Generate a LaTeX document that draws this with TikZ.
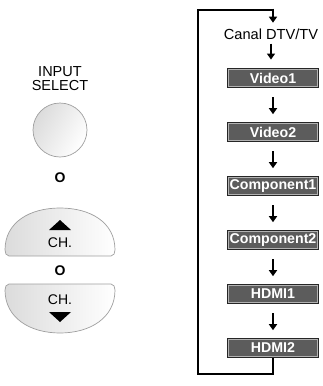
\documentclass[tikz,border=0pt]{standalone}
\usepackage{fontspec}
\setmainfont{Liberation Sans}
\usetikzlibrary{arrows.meta,calc}
\tikzset{
  srcbox/.style={minimum width=92pt,minimum height=20pt,inner sep=0pt,
    font=\bfseries\fontsize{14.2}{15}\selectfont,text=white},
  flowarr/.style={line width=2.1pt,-{Triangle[width=8pt,length=6pt]}},
  loopline/.style={line width=2.6pt,line cap=butt},
  btn/.style={draw=gray!75,line width=0.7pt,left color=gray!28,right color=white},
  btnlabel/.style={font=\fontsize{14}{15}\selectfont},
  orlabel/.style={font=\bfseries\fontsize{14}{15}\selectfont},
}
\newcommand{\srcnode}[3]{%
  \node[srcbox] (#1) at (273,#2) {};
  \fill[black!85] (#1.south west) rectangle (#1.north east);
  \fill[black!30] ($(#1.south west)+(1,-1)$) rectangle ($(#1.north east)+(-1,1)$);
  \fill[black!64] ($(#1.south west)+(2.6,-2.6)$) rectangle ($(#1.north east)+(-2.6,2.6)$);
  \node[srcbox] at (#1) {#3};
}
\begin{document}
\begin{tikzpicture}[x=1pt,y=-1pt]
\useasboundingbox (0,0) rectangle (322,386);
% left side
\node[font=\fontsize{14.5}{14}\selectfont,align=center,inner sep=0pt] (insel) at (60,79) {INPUT\\SELECT};
\node[circle,minimum size=54pt,btn,shading angle=60] (inbtn) at (60,130) {};
\node[orlabel] (or1) at (60,178) {O};
% upper CH button
\path[btn] (9,256) -- (111,256) to[out=0,in=-90] (115,250)
  .. controls (115,222) and (90,208) .. (60,208)
  .. controls (30,208) and (5,222) .. (5,250) to[out=-90,in=180] (9,256) -- cycle;
\fill (49,230) -- (71,230) -- (60,220) -- cycle;
\node[btnlabel] (ch1) at (60,243) {CH.};
\node[orlabel] (or2) at (60,271) {O};
% lower CH button
\path[btn] (9,284) -- (111,284) to[out=0,in=90] (115,290)
  .. controls (115,318) and (90,333) .. (60,333)
  .. controls (30,333) and (5,318) .. (5,290) to[out=90,in=180] (9,284) -- cycle;
\node[btnlabel] (ch2) at (60,300) {CH.};
\fill (49,312) -- (71,312) -- (60,322) -- cycle;
% right side flow
\node[font=\fontsize{14.6}{15}\selectfont,inner sep=0pt] (tv) at (271,34) {Canal DTV/TV};
\srcnode{v1}{78}{Video1}
\srcnode{v2}{132}{Video2}
\srcnode{c1}{186}{Component1}
\srcnode{c2}{240}{Component2}
\srcnode{h1}{294}{HDMI1}
\srcnode{h2}{348}{HDMI2}
\coordinate (tl) at (198,10);
\coordinate (tr) at (273,10);
\coordinate (bl) at (198,374);
\coordinate (br) at (273,374);
\draw[loopline] (h2.south) -- (br) -- (bl) -- (tl) -- (tr);
\draw[flowarr] ($(tr)+(0,-1.3)$) -- ++(0,14);
\draw[flowarr] (tv.south) ++(0,4) -- ++(0,16);
\draw[flowarr] (v1.south) ++(0,9) -- ++(0,17);
\draw[flowarr] (v2.south) ++(0,9) -- ++(0,17);
\draw[flowarr] (c1.south) ++(0,9) -- ++(0,17);
\draw[flowarr] (c2.south) ++(0,9) -- ++(0,17);
\draw[flowarr] (h1.south) ++(0,9) -- ++(0,17);
\end{tikzpicture}
\end{document}
